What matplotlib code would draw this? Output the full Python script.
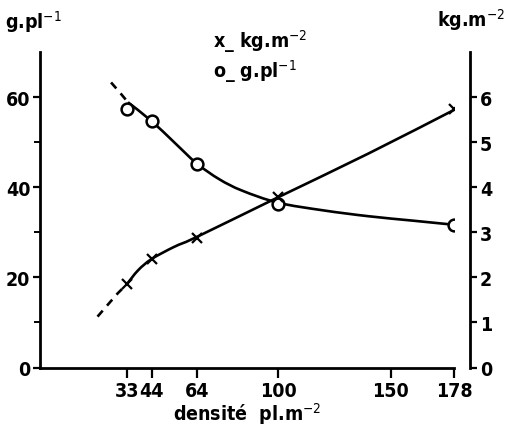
import matplotlib
matplotlib.use("Agg")
import matplotlib.pyplot as plt
from matplotlib.path import Path
from matplotlib.patches import PathPatch
from matplotlib.ticker import FixedLocator
from matplotlib import font_manager

names = {f.name for f in font_manager.fontManager.ttflist}
narrow = "Liberation Sans Narrow" if "Liberation Sans Narrow" in names else "DejaVu Sans"
print(sorted(n for n in names if "Narrow" in n or "Condensed" in n))
plt.rcParams["font.family"] = [narrow, "DejaVu Sans"]
plt.rcParams["font.stretch"] = "condensed"
plt.rcParams["mathtext.fontset"] = "custom"
plt.rcParams["mathtext.rm"] = narrow
plt.rcParams["mathtext.bf"] = narrow + ":bold"

# planting density (plants per m2)
density = [33, 44, 64, 100, 178]
# yield per plant (g/plant), left axis
g_per_plant = [57.4, 54.8, 45.2, 36.3, 31.7]
# yield per area (kg/m2), right axis
kg_per_m2 = [1.85, 2.41, 2.88, 3.78, 5.74]

# fitted curves
g_fit_x = [33.5, 44, 54, 64, 74, 84, 100, 120, 140, 160, 178]
g_fit_y = [58.9, 54.7, 50.0, 45.3, 41.8, 39.3, 36.6, 34.9, 33.6, 32.6, 31.7]
g_ext_x = [26, 30, 33.5]
g_ext_y = [63.3, 61.0, 58.9]

kg_fit_x = [33, 38, 44, 54, 64, 100, 140, 178]
kg_fit_y = [1.85, 2.16, 2.41, 2.68, 2.90, 3.78, 4.75, 5.72]
kg_ext_x = [20, 25, 29, 33]
kg_ext_y = [1.13, 1.42, 1.65, 1.85]

x_ticks = [33, 44, 64, 100, 150, 178]
left_ticks = [0, 20, 40, 60]
left_minor = [10, 30, 50]
right_ticks = [0, 1, 2, 3, 4, 5, 6]


def smooth_path(xs, ys):
    """Catmull-Rom curve through the given points as a cubic Bezier path."""
    pts = list(zip(xs, ys))
    verts = [pts[0]]
    codes = [Path.MOVETO]
    n = len(pts)
    for i in range(n - 1):
        p0 = pts[i - 1] if i > 0 else pts[i]
        p1, p2 = pts[i], pts[i + 1]
        p3 = pts[i + 2] if i + 2 < n else pts[i + 1]
        c1 = (p1[0] + (p2[0] - p0[0]) / 6, p1[1] + (p2[1] - p0[1]) / 6)
        c2 = (p2[0] - (p3[0] - p1[0]) / 6, p2[1] - (p3[1] - p1[1]) / 6)
        verts += [c1, c2, p2]
        codes += [Path.CURVE4] * 3
    return Path(verts, codes)


W, H = 508, 427
fig = plt.figure(figsize=(W / 100, H / 100), dpi=100)
ax = fig.add_axes([40 / W, 58.5 / H, (454 - 40) / W, (368.5 - 53.3) / H])
ax2 = ax.twinx()

lw = 1.9
ax.add_patch(PathPatch(smooth_path(g_fit_x, g_fit_y), fill=False, lw=lw, ec="black"))
ax.plot(g_ext_x, g_ext_y, color="black", lw=lw, ls=(0, (3, 2.5)))
ax.plot(density, g_per_plant, ls="none", marker="o", ms=8.5, mfc="white",
        mec="black", mew=1.8, zorder=5)

ax2.add_patch(PathPatch(smooth_path(kg_fit_x, kg_fit_y), fill=False, lw=lw, ec="black"))
ax2.plot(kg_ext_x, kg_ext_y, color="black", lw=lw, ls=(0, (3, 2.5)))
ax2.plot(density, kg_per_m2, ls="none", marker="x", ms=7, mec="black",
         mew=1.6, zorder=5)

ax.set_xlim(-5.5, 178)
ax.set_ylim(0, 70)
ax2.set_ylim(0, 7)

for a in (ax, ax2):
    a.spines["top"].set_visible(False)
    for s in a.spines.values():
        s.set_linewidth(2.0)
ax.spines["right"].set_visible(False)
ax2.spines["left"].set_visible(False)
ax2.spines["bottom"].set_visible(False)
ax2.spines["right"].set_position(("outward", 11.5))

ax.set_xticks(x_ticks)
ax.set_yticks(left_ticks)
ax.yaxis.set_minor_locator(FixedLocator(left_minor))
ax2.set_yticks(right_ticks)

tick_font = dict(fontsize=14, fontweight="bold", fontstretch="condensed")
ax.set_xticklabels([str(v) for v in x_ticks], **tick_font)
ax.set_yticklabels([str(v) for v in left_ticks], **tick_font)
ax2.set_yticklabels([str(v) for v in right_ticks], **tick_font)

ax.tick_params(axis="x", direction="out", length=7, width=1.6, pad=3)
ax.tick_params(axis="y", which="major", direction="out", length=5, width=1.6, pad=2)
ax.tick_params(axis="y", which="minor", direction="out", length=4, width=1.4)
ax2.tick_params(axis="y", direction="out", length=5, width=1.6, pad=2)

label_font = dict(fontsize=14, fontweight="bold", fontstretch="condensed")
ax.text(0.5, -0.105, r"densité  pl.m$^{-2}$", transform=ax.transAxes,
        ha="center", va="top", **label_font)

fig.text(5 / W, 1 - 22 / H, r"g.pl$^{-1}$", ha="left", va="center", **label_font)
fig.text(505 / W, 1 - 20 / H, r"kg.m$^{-2}$", ha="right", va="center", **label_font)

fig.text(213 / W, 1 - 42 / H, r"x_ kg.m$^{-2}$", ha="left", va="center", **label_font)
fig.text(213 / W, 1 - 72 / H, r"o_ g.pl$^{-1}$", ha="left", va="center", **label_font)

fig.savefig("out.png", dpi=100)
